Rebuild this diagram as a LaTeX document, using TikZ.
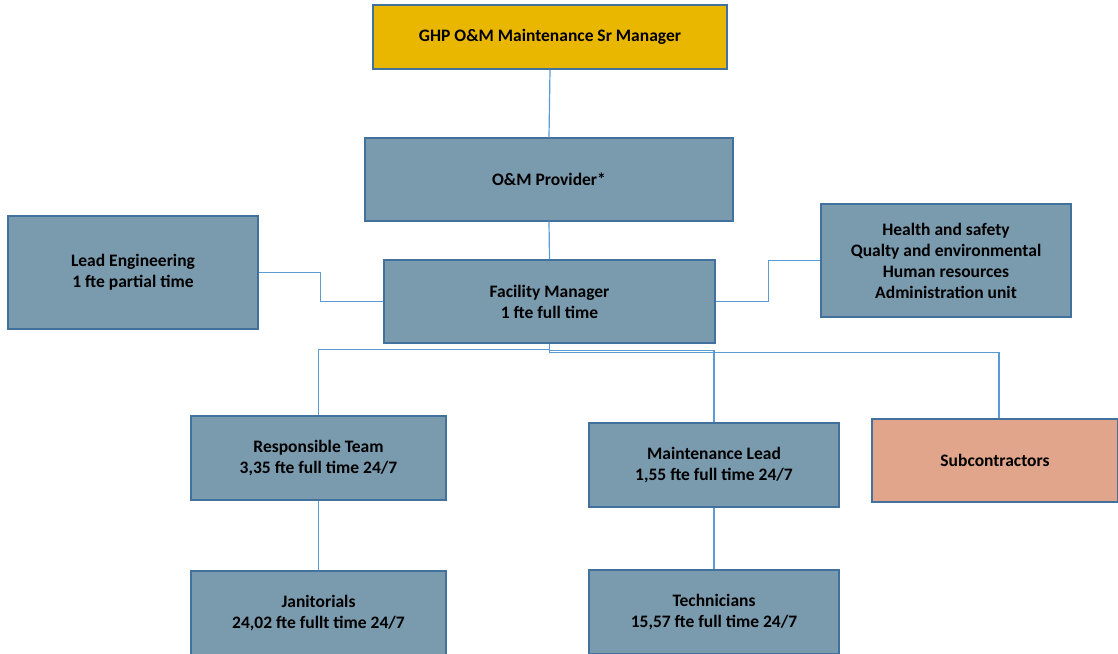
\documentclass[tikz,border=0pt]{standalone}
\usepackage{fontspec}
\setmainfont{Carlito}
\usepackage{xcolor}
\definecolor{boxblue}{RGB}{122,154,174}
\definecolor{boxedge}{RGB}{65,113,156}
\definecolor{gold}{RGB}{234,183,0}
\definecolor{salmon}{RGB}{224,165,138}
\definecolor{linkblue}{RGB}{91,155,213}

\begin{document}
\begin{tikzpicture}[x=1pt,y=-1pt,
    unit/.style={draw=boxedge,line width=1.2pt,fill=boxblue,align=center,
        font=\fontsize{17.5}{21}\selectfont\bfseries,inner sep=0pt},
    link/.style={draw=linkblue,line width=1.2pt}]
        \useasboundingbox (0,0) rectangle (1118,653);

        % top of the chart
        \node[unit,fill=gold,minimum width=354pt,minimum height=64pt] (ghp) at (550,37) {GHP O\&M Maintenance Sr Manager};
        \node[unit,minimum width=368pt,minimum height=83pt] (prov) at (549,179.5) {O\&M Provider*};

        % facility level
        \node[unit,minimum width=331pt,minimum height=83pt] (fm) at (549.5,301.5) {Facility Manager\\1 fte full time};
        \node[unit,minimum width=250pt,minimum height=113pt] (lead) at (133,272.5) {Lead Engineering\\1 fte partial time};
        \node[unit,minimum width=250pt,minimum height=113pt] (hs) at (946,260.5) {Health and safety\\Qualty and environmental\\Human resources\\Administration unit};

        % teams
        \node[unit,minimum width=255pt,minimum height=84pt] (resp) at (318.5,458) {Responsible Team\\3,35 fte full time 24/7};
        \node[unit,minimum width=250pt,minimum height=84pt] (mlead) at (714,465) {Maintenance Lead\\1,55 fte full time 24/7};
        \node[unit,fill=salmon,minimum width=246pt,minimum height=83pt] (sub) at (995,460.5) {Subcontractors};
        \node[unit,minimum width=255pt,minimum height=84pt] (jan) at (318.5,613) {Janitorials\\24,02 fte fullt time 24/7};
        \node[unit,minimum width=250pt,minimum height=84pt] (tech) at (714,612) {Technicians\\15,57 fte full time 24/7};

        % connectors
        \draw[link] (ghp.south) -- (prov.north);
        \draw[link] (prov.south) -- (fm.north);
        \draw[link] (lead.east) -- ++(62,0) |- (fm.west);
        \draw[link] (fm.east) -- ++(53,0) |- (hs.west);
        \draw[link] (fm.south) -- ++(0,6) -| (resp.north);
        \draw[link] (fm.south) -- ++(0,7) -| (mlead.north);
        \draw[link] (fm.south) -- ++(0,9) -| ([xshift=4pt]sub.north);
        \draw[link] (resp.south) -- (jan.north);
        \draw[link] (mlead.south) -- (tech.north);
    \end{tikzpicture}
\end{document}
